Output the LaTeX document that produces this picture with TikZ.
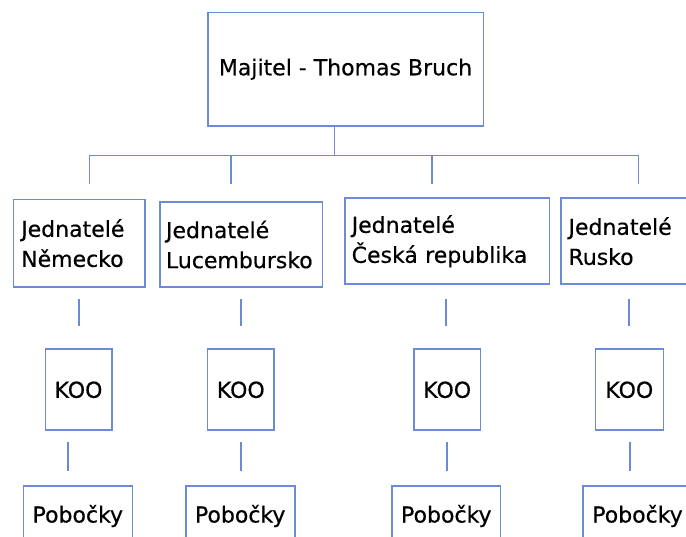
\documentclass[tikz,border=0pt]{standalone}
\usepackage{fontspec}
\setmainfont{DejaVu Sans}[FakeBold=0.4]
\definecolor{linecol}{RGB}{108,138,214}
\begin{document}
\begin{tikzpicture}[x=1pt,y=-1pt,
  every node/.style={font=\fontsize{22}{30}\selectfont, text=black},
  box/.style={draw=linecol, line width=1.6pt, rectangle, inner sep=0pt},
  conn/.style={draw=linecol, line width=1.6pt}]
\useasboundingbox (0,0) rectangle (686,537);
\clip (0,0) rectangle (686,537);
\fill[white] (0,0) rectangle (686,537);

% top
\node[box, minimum width=275.6pt, minimum height=113.7pt] (top) at (345.5,69.2) {Majitel - Thomas Bruch};

% level 2
\node[box, minimum width=131.7pt, minimum height=87.7pt, align=left, text width=116pt] (j1) at (79.2,243.2) {Jednatelé\\Německo};
\node[box, minimum width=162.6pt, minimum height=85pt, align=left, text width=150pt] (j2) at (241,244.5) {Jednatelé\\Lucembursko};
\node[box, minimum width=204.3pt, minimum height=86pt, align=left, text width=191pt] (j3) at (447.2,241.3) {Jednatelé\\Česká republika};
\node[box, minimum width=140pt, minimum height=86pt, align=left, text width=125pt] (j4) at (631,241.2) {Jednatelé\\Rusko};

% KOO
\node[box, minimum width=66.4pt, minimum height=81pt] (k1) at (78.5,389.8) {KOO};
\node[box, minimum width=66.3pt, minimum height=81pt] (k2) at (240.8,389.8) {KOO};
\node[box, minimum width=66.3pt, minimum height=81pt] (k3) at (447.2,389.8) {KOO};
\node[box, minimum width=68pt, minimum height=81pt] (k4) at (629.3,389.8) {KOO};

% Pobocky
\node[box, minimum width=109pt, minimum height=60.6pt] (p1) at (77.8,516) {Pobočky};
\node[box, minimum width=109pt, minimum height=60.6pt] (p2) at (240.2,516) {Pobočky};
\node[box, minimum width=108.7pt, minimum height=60.6pt] (p3) at (446.3,516) {Pobočky};
\node[box, minimum width=109pt, minimum height=60.6pt] (p4) at (637.5,516) {Pobočky};

% connector coordinates
\coordinate (t0) at (334.3,126);
\coordinate (bm) at (334.3,155.7);
\coordinate (bl) at (89.3,155.7);
\coordinate (br) at (638.3,155.7);
\coordinate (b2) at (231,155.7);
\coordinate (b3) at (431.7,155.7);
\coordinate (e1) at (89.3,184);
\coordinate (e2) at (231,184);
\coordinate (e3) at (431.7,184);
\coordinate (e4) at (638.3,184);

\draw[conn] (t0) -- (bm);
\draw[conn] (e1) -- (bl) -- (br) -- (e4);
\draw[conn] (b2) -- (e2);
\draw[conn] (b3) -- (e3);

\coordinate (a1) at (78.7,299);  \coordinate (c1) at (78.7,326);
\coordinate (a2) at (240.7,299); \coordinate (c2) at (240.7,326);
\coordinate (a3) at (446,299);   \coordinate (c3) at (446,326);
\coordinate (a4) at (628.7,299); \coordinate (c4) at (628.7,326);
\draw[conn] (a1) -- (c1);
\draw[conn] (a2) -- (c2);
\draw[conn] (a3) -- (c3);
\draw[conn] (a4) -- (c4);

\coordinate (d1) at (67.7,442.3);  \coordinate (f1) at (67.7,471);
\coordinate (d2) at (240.7,442.3); \coordinate (f2) at (240.7,471);
\coordinate (d3) at (447,442.3);   \coordinate (f3) at (447,471);
\coordinate (d4) at (629.7,442.3); \coordinate (f4) at (629.7,471);
\draw[conn] (d1) -- (f1);
\draw[conn] (d2) -- (f2);
\draw[conn] (d3) -- (f3);
\draw[conn] (d4) -- (f4);
\end{tikzpicture}
\end{document}
